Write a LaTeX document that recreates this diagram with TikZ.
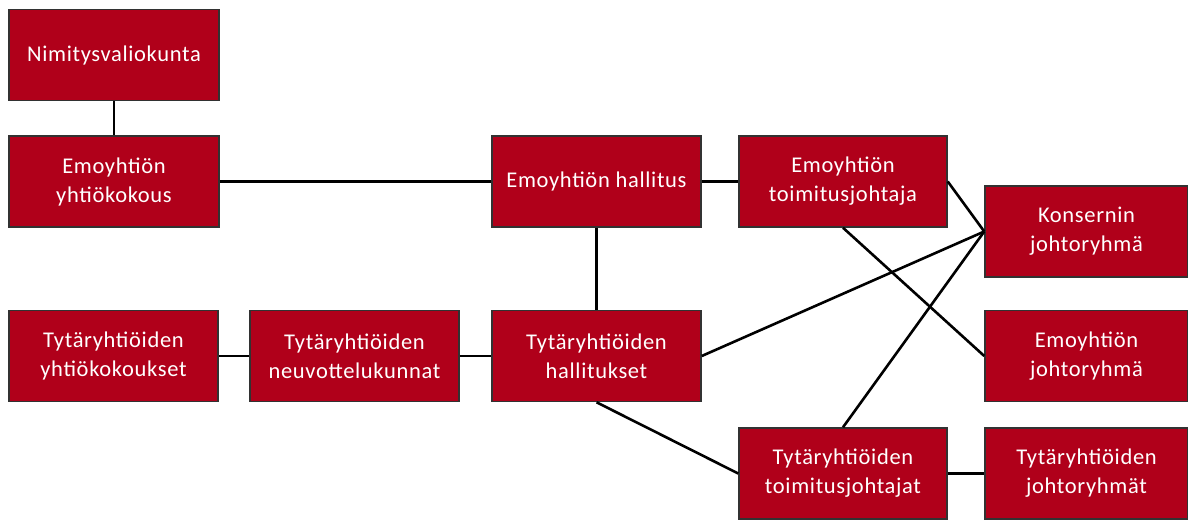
\documentclass[tikz,border=0pt]{standalone}
\usepackage{fontspec}
\setmainfont{Carlito}[LetterSpace=3]
\definecolor{boxred}{RGB}{176,0,26}
\definecolor{boxline}{RGB}{50,50,50}
\begin{document}
\begin{tikzpicture}[x=1pt,y=-1pt,
  box/.style={rectangle, fill=boxred, draw=boxline, line width=1.5pt, text=white,
    minimum height=91pt, inner sep=0pt, align=center,
    font=\fontsize{22.5}{29}\selectfont},
  conn/.style={line width=2.6pt, black}]
\useasboundingbox (0,0) rectangle (1188,520);
\node[box, minimum width=210pt] (nim) at (114,55) {Nimitysvaliokunta};
\node[box, minimum width=210pt] (eyk) at (114,181.5) {Emoyhtiön\\yhtiökokous};
\node[box, minimum width=209pt] (eh) at (596.5,181.5) {Emoyhtiön hallitus};
\node[box, minimum width=208pt] (etj) at (843,181.5) {Emoyhtiön\\toimitusjohtaja};
\node[box, minimum width=203pt] (kjr) at (1086.5,231.5) {Konsernin\\johtoryhmä};
\node[box, minimum width=209pt] (tyk) at (113.5,356) {Tytäryhtiöiden\\yhtiökokoukset};
\node[box, minimum width=209pt] (tnk) at (354.5,356) {Tytäryhtiöiden\\neuvottelukunnat};
\node[box, minimum width=209pt] (th) at (596.5,356) {Tytäryhtiöiden\\hallitukset};
\node[box, minimum width=203pt] (ejr) at (1086.5,356) {Emoyhtiön\\johtoryhmä};
\node[box, minimum width=208pt] (ttj) at (843,473.5) {Tytäryhtiöiden\\toimitusjohtajat};
\node[box, minimum width=203pt] (tjr) at (1086.5,473.5) {Tytäryhtiöiden\\johtoryhmät};
\draw[conn] (nim.south) -- (eyk.north);
\draw[conn] (eyk.east) -- (eh.west);
\draw[conn] (eh.east) -- (etj.west);
\draw[conn] (eh.south) -- (th.north);
\draw[conn] (tyk.east) -- (tnk.west);
\draw[conn] (tnk.east) -- (th.west);
\draw[conn] (th.east) -- (kjr.west);
\draw[conn] (etj.east) -- (kjr.west);
\draw[conn] (etj.south) -- (ejr.west);
\draw[conn] (ttj.north) -- (kjr.west);
\draw[conn] (th.south) -- (ttj.west);
\draw[conn] (ttj.east) -- (tjr.west);
\end{tikzpicture}
\end{document}
